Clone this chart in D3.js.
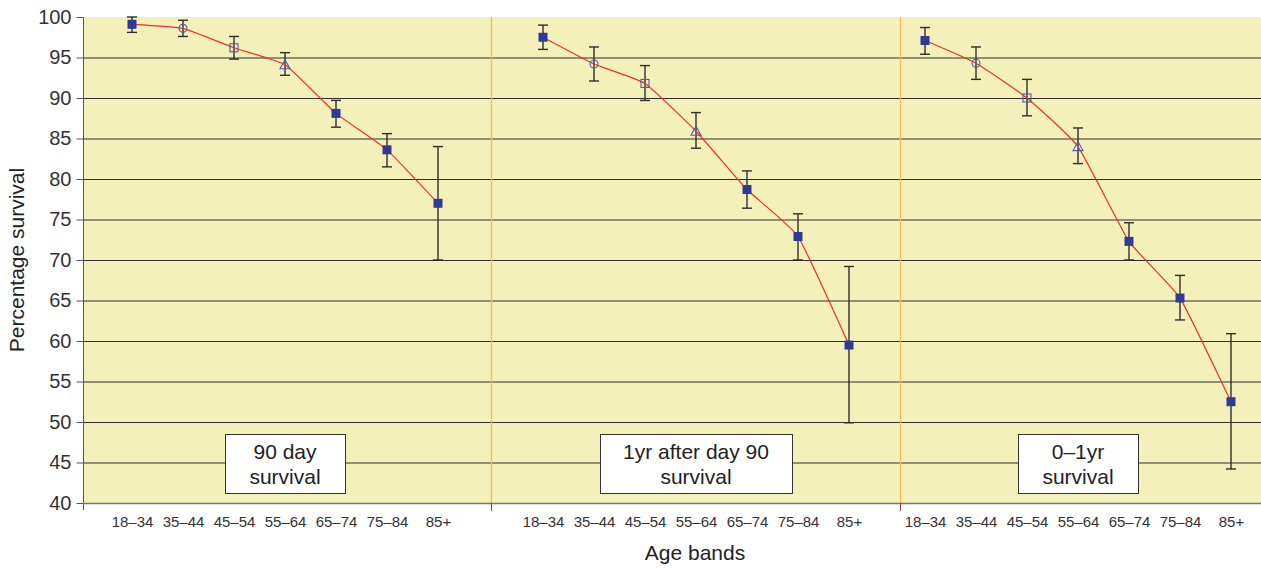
<!DOCTYPE html>
<html>
<head>
<meta charset="utf-8">
<script src="https://cdn.jsdelivr.net/npm/d3@7"></script>
<style>
  body { margin: 0; background: #fff; }
  svg { display: block; font-family: "Liberation Sans", Arial, sans-serif; }
</style>
</head>
<body>
<div id="chart"></div>
<script>
// Data
const ageBands = ["18–34", "35–44", "45–54", "55–64", "65–74", "75–84", "85+"];
const markerTypes = ["filled", "circle", "square", "triangle", "filled", "filled", "filled"];
const panelTitles = [["90 day", "survival"], ["1yr after day 90", "survival"], ["0–1yr", "survival"]];

const day90Mean = [99.1, 98.6, 96.2, 94.1, 88.1, 83.6, 77.0];
const day90Low  = [98.1, 97.6, 94.8, 92.8, 86.4, 81.5, 70.0];
const day90High = [100.0, 99.6, 97.6, 95.6, 89.7, 85.6, 84.0];

const yr1Mean = [97.5, 94.2, 91.8, 85.9, 78.7, 72.9, 59.5];
const yr1Low  = [96.0, 92.1, 89.7, 83.8, 76.4, 70.0, 49.9];
const yr1High = [99.0, 96.3, 94.0, 88.2, 81.0, 75.7, 69.2];

const yr01Mean = [97.1, 94.3, 90.0, 84.0, 72.3, 65.3, 52.5];
const yr01Low  = [95.4, 92.3, 87.8, 81.9, 70.0, 62.6, 44.2];
const yr01High = [98.7, 96.3, 92.3, 86.3, 74.6, 68.1, 60.9];

const yTicks = [40, 45, 50, 55, 60, 65, 70, 75, 80, 85, 90, 95, 100];

const series = [
  { mean: day90Mean, low: day90Low, high: day90High },
  { mean: yr1Mean, low: yr1Low, high: yr1High },
  { mean: yr01Mean, low: yr01Low, high: yr01High }
];

// Layout
const width = 1261, height = 569;
const plot = { left: 83, right: 1261, top: 17, bottom: 503 };
const panelBounds = [83, 491, 900];            // left edges of the three panels
const panelRanges = [[132, 438], [543, 849], [925, 1231]];

const navy = "#2e3a96";
const font = "'Liberation Sans', Arial, sans-serif";

const svg = d3.select("#chart").append("svg")
  .attr("width", width)
  .attr("height", height);

const y = d3.scaleLinear().domain([40, 100]).range([plot.bottom, plot.top]);

// Plot background
svg.append("rect")
  .attr("x", plot.left).attr("y", plot.top)
  .attr("width", plot.right - plot.left).attr("height", plot.bottom - plot.top)
  .attr("fill", "#f3f1b9");

// Gridlines
svg.append("g").selectAll("line")
  .data(yTicks.filter(t => t > 40 && t < 100))
  .join("line")
  .attr("x1", plot.left).attr("x2", plot.right)
  .attr("y1", d => y(d) + 0.5).attr("y2", d => y(d) + 0.5)
  .attr("stroke", "#2e2e2a").attr("stroke-width", 1.1);

// Panel dividers
svg.append("g").selectAll("line")
  .data(panelBounds.slice(1))
  .join("line")
  .attr("x1", d => d + 0.5).attr("x2", d => d + 0.5)
  .attr("y1", plot.top).attr("y2", plot.bottom)
  .attr("stroke", "#f6b95a").attr("stroke-width", 1.3);

// Y axis
const yAxis = svg.append("g")
  .attr("transform", `translate(${plot.left + 0.5},0)`)
  .call(d3.axisLeft(y).tickValues(yTicks).tickSize(7).tickPadding(5));
yAxis.select(".domain").attr("stroke", "#555").attr("d", `M0,${plot.top}V${plot.bottom + 7}`);
yAxis.selectAll(".tick line").attr("stroke", "#555");
yAxis.selectAll(".tick text").attr("font-size", 20).attr("fill", "#333")
  .attr("font-family", font);

// Bottom axis line and panel ticks
svg.append("line")
  .attr("x1", plot.left).attr("x2", plot.right)
  .attr("y1", plot.bottom + 0.5).attr("y2", plot.bottom + 0.5)
  .attr("stroke", "#777").attr("stroke-width", 1.3);
svg.append("g").selectAll("line")
  .data(panelBounds.slice(1))
  .join("line")
  .attr("x1", d => d + 0.5).attr("x2", d => d + 0.5)
  .attr("y1", plot.bottom).attr("y2", plot.bottom + 8)
  .attr("stroke", "#555");

const line = d3.line()
  .x(d => d.x).y(d => y(d.v))
  .curve(d3.curveCardinal.tension(0.6));

series.forEach((s, p) => {
  const x = d3.scalePoint().domain(ageBands).range(panelRanges[p]);
  const pts = ageBands.map((a, i) => ({
    x: x(a), v: s.mean[i], lo: s.low[i], hi: s.high[i], type: markerTypes[i], band: a
  }));
  const g = svg.append("g");

  // Category labels
  const xAxis = svg.append("g")
    .attr("transform", `translate(0,${plot.bottom})`)
    .call(d3.axisBottom(x).tickSize(0).tickPadding(13));
  xAxis.select(".domain").remove();
  xAxis.selectAll(".tick text").attr("font-size", 15).attr("fill", "#333")
    .attr("font-family", font);

  // Error bars
  const eb = g.append("g").attr("stroke", "#2f2f2a").attr("stroke-width", 1.4);
  pts.forEach(d => {
    eb.append("line").attr("x1", d.x).attr("x2", d.x).attr("y1", y(d.lo)).attr("y2", y(d.hi));
    eb.append("line").attr("x1", d.x - 5).attr("x2", d.x + 5).attr("y1", y(d.lo)).attr("y2", y(d.lo));
    eb.append("line").attr("x1", d.x - 5).attr("x2", d.x + 5).attr("y1", y(d.hi)).attr("y2", y(d.hi));
  });

  // Smoothed line
  g.append("path").datum(pts)
    .attr("d", line)
    .attr("fill", "none")
    .attr("stroke", "#f0302a")
    .attr("stroke-width", 1.2);

  // Markers
  pts.forEach(d => {
    const cy = y(d.v);
    if (d.type === "filled") {
      g.append("rect").attr("x", d.x - 4.5).attr("y", cy - 4.5)
        .attr("width", 9).attr("height", 9).attr("fill", navy);
    } else if (d.type === "circle") {
      g.append("circle").attr("cx", d.x).attr("cy", cy).attr("r", 4)
        .attr("fill", "none").attr("stroke", "#4a5cb0").attr("stroke-width", 1.1);
    } else if (d.type === "square") {
      g.append("rect").attr("x", d.x - 4).attr("y", cy - 4)
        .attr("width", 8).attr("height", 8)
        .attr("fill", "none").attr("stroke", "#4a5cb0").attr("stroke-width", 1.1);
    } else {
      g.append("path")
        .attr("d", `M${d.x},${cy - 5}L${d.x + 5},${cy + 4}L${d.x - 5},${cy + 4}Z`)
        .attr("fill", "none").attr("stroke", "#4a5cb0").attr("stroke-width", 1.1);
    }
  });

  // Panel title box
  const cx = (panelRanges[p][0] + panelRanges[p][1]) / 2;
  const boxW = p === 1 ? 192 : 120;
  svg.append("rect")
    .attr("x", cx - boxW / 2 + 0.5).attr("y", 434.5)
    .attr("width", boxW).attr("height", 59)
    .attr("fill", "#fff").attr("stroke", "#333").attr("stroke-width", 1);
  panelTitles[p].forEach((t, k) => {
    svg.append("text")
      .attr("x", cx).attr("y", 459 + k * 25)
      .attr("text-anchor", "middle")
      .attr("font-size", 21).attr("fill", "#222")
      .text(t);
  });
});

// Axis titles
svg.append("text")
  .attr("x", 695).attr("y", 560)
  .attr("text-anchor", "middle")
  .attr("font-size", 21).attr("fill", "#222")
  .text("Age bands");

svg.append("text")
  .attr("transform", `translate(24,${(plot.top + plot.bottom) / 2}) rotate(-90)`)
  .attr("text-anchor", "middle")
  .attr("font-size", 21).attr("fill", "#222")
  .text("Percentage survival");
</script>
</body>
</html>
